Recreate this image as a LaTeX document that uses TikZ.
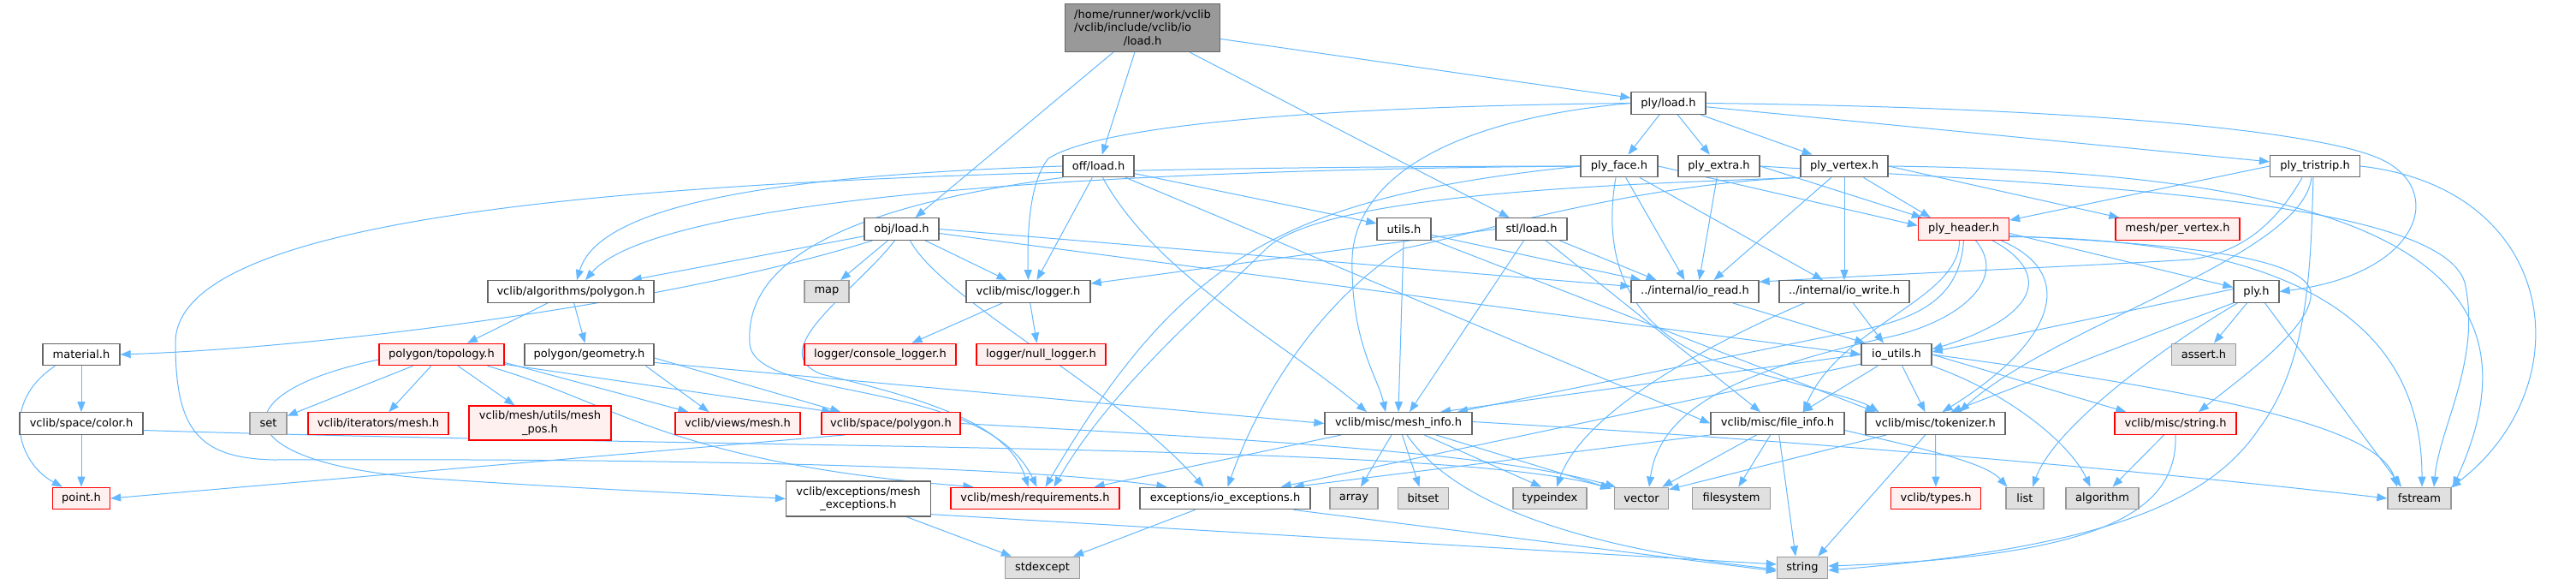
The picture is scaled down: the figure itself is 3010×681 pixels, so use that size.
\documentclass[tikz,border=0pt]{standalone}
\usepackage{fontspec}
\setmainfont{DejaVu Sans}
\usetikzlibrary{arrows.meta,backgrounds,calc}
\definecolor{edgec}{HTML}{63B8FF}
\definecolor{bordc}{HTML}{666666}
\definecolor{rootfill}{HTML}{999999}
\definecolor{redfill}{HTML}{FFF0F0}
\definecolor{grayfill}{HTML}{E0E0E0}
\definecolor{grayb}{HTML}{999999}
\begin{document}
\begin{tikzpicture}[x=1pt,y=-1pt,
 box/.style={draw=bordc, fill=white, line width=1.3pt, minimum height=25.5pt, inner sep=0pt, font=\fontsize{13pt}{15.2pt}\selectfont, align=center},
 redbox/.style={box, draw=red, fill=redfill},
 graybox/.style={box, draw=grayb, fill=grayfill},
 rootbox/.style={box, fill=rootfill},
 edge/.style={draw=edgec, line width=1pt, -{Triangle[length=12pt,width=9pt]}}]
\useasboundingbox (0,0) rectangle (3010,681);
% nodes
\node[rootbox, minimum width=181pt, minimum height=56pt] (root) at (1335,32.5) {/home/runner/work/vclib\\\makebox[0pt][l]{/vclib/include/vclib/io}\phantom{/home/runner/work/vclib}\\/load.h};
\node[box, minimum width=87pt] (obj) at (1053.5,267.5) {obj/load.h};
\node[box, minimum width=83pt] (off) at (1283.5,194) {off/load.h};
\node[box, minimum width=87pt] (plyload) at (1949.5,120.5) {ply/load.h};
\node[box, minimum width=83pt] (stl) at (1789.5,267.5) {stl/load.h};
\node[box, minimum width=90pt] (plyface) at (1892,194) {ply\_face.h};
\node[box, minimum width=95pt] (plyextra) at (2008.5,194) {ply\_extra.h};
\node[box, minimum width=102pt] (plyvertex) at (2155,194) {ply\_vertex.h};
\node[box, minimum width=105pt] (plytristrip) at (2705,194) {ply\_tristrip.h};
\node[box, minimum width=63pt] (utils) at (1640.5,267.5) {utils.h};
\node[redbox, minimum width=106pt] (plyheader) at (2294.5,267.5) {ply\_header.h};
\node[redbox, minimum width=145pt] (pervertex) at (2544.5,267.5) {mesh/per\_vertex.h};
\node[box, minimum width=149pt] (ioread) at (1980.5,340.5) {../internal/io\_read.h};
\node[box, minimum width=152pt] (iowrite) at (2155,340.5) {../internal/io\_write.h};
\node[box, minimum width=53pt] (plyh) at (2636.5,340.5) {ply.h};
\node[box, minimum width=194pt] (polygonA) at (667,340.5) {vclib/algorithms/polygon.h};
\node[graybox, minimum width=52pt] (map) at (966,340.5) {map};
\node[box, minimum width=145pt] (logger) at (1201.5,340.5) {vclib/misc/logger.h};
\node[box, minimum width=90pt] (material) at (95,414) {material.h};
\node[redbox, minimum width=146pt] (topology) at (516,414) {polygon/topology.h};
\node[box, minimum width=151pt] (geometry) at (688.5,414) {polygon/geometry.h};
\node[redbox, minimum width=177pt] (console) at (1028.5,414) {logger/console\_logger.h};
\node[redbox, minimum width=151pt] (null) at (1216.5,414) {logger/null\_logger.h};
\node[box, minimum width=82pt] (ioutils) at (2216,414) {io\_utils.h};
\node[graybox, minimum width=75pt] (assert) at (2575,414) {assert.h};
\node[box, minimum width=144pt] (color) at (95,494.5) {vclib/space/color.h};
\node[graybox, minimum width=43pt] (set) at (313.5,494.5) {set};
\node[redbox, minimum width=164pt] (itermesh) at (442,494.5) {vclib/iterators/mesh.h};
\node[redbox, minimum width=166pt, minimum height=40pt] (meshpos) at (631,494) {vclib/mesh/utils/mesh\\\_pos.h};
\node[redbox, minimum width=146pt] (viewsmesh) at (862,494.5) {vclib/views/mesh.h};
\node[redbox, minimum width=162pt] (spacepoly) at (1041,494.5) {vclib/space/polygon.h};
\node[box, minimum width=172pt] (meshinfo) at (1634,494.5) {vclib/misc/mesh\_info.h};
\node[box, minimum width=156pt] (fileinfo) at (2077,494.5) {vclib/misc/file\_info.h};
\node[box, minimum width=163pt] (tokenizer) at (2261.5,494.5) {vclib/misc/tokenizer.h};
\node[redbox, minimum width=142pt] (stringh) at (2542,494.5) {vclib/misc/string.h};
\node[redbox, minimum width=67pt] (point) at (95,582) {point.h};
\node[box, minimum width=169pt, minimum height=41pt] (meshexc) at (1003,582.5) {vclib/exceptions/mesh\\\_exceptions.h};
\node[redbox, minimum width=197pt] (requirements) at (1209.5,582) {vclib/mesh/requirements.h};
\node[box, minimum width=199pt] (ioexc) at (1431.5,582) {exceptions/io\_exceptions.h};
\node[graybox, minimum width=56pt] (array) at (1582,582) {array};
\node[graybox, minimum width=59pt] (bitset) at (1663,582) {bitset};
\node[graybox, minimum width=86pt] (typeindex) at (1811,582) {typeindex};
\node[graybox, minimum width=63pt] (vector) at (1918,582) {vector};
\node[graybox, minimum width=91pt] (filesystem) at (2023,582) {filesystem};
\node[redbox, minimum width=105pt] (types) at (2262,582) {vclib/types.h};
\node[graybox, minimum width=44pt] (list) at (2366,582) {list};
\node[graybox, minimum width=85pt] (algorithm) at (2456.5,582) {algorithm};
\node[graybox, minimum width=74pt] (fstream) at (2827,582) {fstream};
\node[graybox, minimum width=87pt] (stdexcept) at (1218,663) {stdexcept};
\node[graybox, minimum width=59pt] (string) at (2106,663) {string};
\begin{pgfonlayer}{background}
\fill[white] (0,0) rectangle (3010,681);
% root
\draw[edge] (root) -- (obj);
\draw[edge] (root) -- (off);
\draw[edge] (root) -- (stl);
\draw[edge] (root) -- (plyload);
% obj
\draw[edge] (obj) -- ($(polygonA.north east)+(-27,0)$);
\draw[edge] ($(obj.south west)+(10,0)$) .. controls (800,350) and (400,405) .. (material.east);
\draw[edge] (obj) -- (map);
\draw[edge] ($(obj.south)+(-8,0)$) .. controls (1000,340) and (890,410) .. (960,437) .. controls (1100,470) and (1180,500) .. ($(requirements.north)+(-8,0)$);
\draw[edge] ($(obj.south)+(10,0)$) .. controls (1100,350) and (1300,450) .. ($(ioexc.north)+(-25,0)$);
\draw[edge] (obj) -- ($(logger.north)+(-25,0)$);
\draw[edge] (obj.east) -- ($(ioread.west)+(0,-6)$);
\draw[edge] ($(obj.east)+(0,5)$) -- (ioutils.west);
% off
\draw[edge] (off.west) .. controls (900,205) and (700,240) .. ($(polygonA.north)+(7,0)$);
\draw[edge] (off) -- ($(logger.north)+(10,0)$);
\draw[edge] (off) -- (utils);
\draw[edge] (off) -- (fileinfo.west);
\draw[edge] ($(off.south)+(5,0)$) .. controls (1350,320) and (1500,400) .. ($(meshinfo.north)+(-37,0)$);
\draw[edge] (off.south west) .. controls (1000,240) and (870,300) .. (876,400) .. controls (878,470) and (1150,440) .. ($(requirements.north)+(2,0)$);
% ply/load
\draw[edge] (plyload.west) .. controls (1500,125) and (1280,150) .. (1225,185) .. controls (1205,210) and (1200,260) .. (logger.north);
\draw[edge] (plyload.west) .. controls (1690,140) and (1585,210) .. (1580,300) .. controls (1578,400) and (1610,440) .. ($(meshinfo.north)+(-15,0)$);
\draw[edge] (plyload) -- (plyface);
\draw[edge] (plyload) -- (plyextra);
\draw[edge] (plyload) -- (plyvertex);
\draw[edge] (plyload) -- (plytristrip);
\draw[edge] (plyload.east) .. controls (2400,125) and (2700,150) .. (2780,185) .. controls (2860,220) and (2830,320) .. (plyh.east);
% stl
\draw[edge] (stl.west) -- ($(logger.north east)+(0,4)$);
\draw[edge] (stl) -- ($(meshinfo.north)+(13,0)$);
\draw[edge] (stl) -- ($(ioread.north)+(-45,0)$);
\draw[edge] (stl) -- ($(fileinfo.north)+(-20,0)$);
% utils
\draw[edge] (utils) -- (meshinfo.north);
\draw[edge] (utils) -- ($(ioread.north west)+(12,0)$);
\draw[edge] (utils) -- ($(tokenizer.north west)+(12,0)$);
% ply_face
\draw[edge] (plyface.west) .. controls (1100,200) and (750,250) .. ($(polygonA.north)+(17,0)$);
\draw[edge] (plyface.west) .. controls (900,195) and (205,230) .. (205,400) .. controls (205,500) and (230,535) .. (320,537) .. controls (800,535) and (1200,545) .. ($(ioexc.north west)+(32,0)$);
\draw[edge] (plyface.west) .. controls (1500,230) and (1380,300) .. ($(requirements.north)+(12,0)$);
\draw[edge] ($(plyface.south)+(-4,0)$) .. controls (1872,300) and (1900,380) .. (2000,420) .. controls (2100,450) and (2170,465) .. ($(tokenizer.north west)+(16,0)$);
\draw[edge] (plyface) -- ($(ioread.north)+(-12,0)$);
\draw[edge] (plyface) -- ($(iowrite.north)+(-25,0)$);
\draw[edge] (plyface.east) -- ($(plyheader.west)+(0,-4)$);
% ply_extra
\draw[edge] (plyextra) -- ($(ioread.north)+(5,0)$);
\draw[edge] (plyextra.east) -- ($(plyheader.north west)+(5,0)$);
\draw[edge] (plyextra.east) .. controls (2400,215) and (2850,230) .. (2880,330) .. controls (2900,420) and (2850,500) .. ($(fstream.north)+(17,0)$);
% ply_vertex
\draw[edge] (plyvertex) -- ($(ioread.north)+(22,0)$);
\draw[edge] (plyvertex) -- (iowrite.north);
\draw[edge] (plyvertex) -- ($(plyheader.north west)+(15,0)$);
\draw[edge] (plyvertex.east) -- ($(pervertex.north west)+(5,0)$);
\draw[edge] (plyvertex.south west) .. controls (1900,215) and (1550,225) .. (1480,290) .. controls (1420,350) and (1300,450) .. ($(requirements.north)+(22,0)$);
\draw[edge] (plyvertex.south west) .. controls (1900,215) and (1700,280) .. (1640,290) .. controls (1560,340) and (1480,440) .. ($(ioexc.north)+(3,0)$);
\draw[edge] (plyvertex.east) .. controls (2750,200) and (2990,300) .. ($(fstream.north)+(39,0)$);
% ply_tristrip
\draw[edge] (plytristrip.west) -- ($(plyheader.north east)+(0,3)$);
\draw[edge] ($(plytristrip.south)+(-15,0)$) .. controls (2660,260) and (2620,295) .. (2560,303) .. controls (2450,310) and (2250,318) .. ($(ioread.north east)+(0,2)$);
\draw[edge] ($(plytristrip.south)+(-4,0)$) .. controls (2690,300) and (2400,380) .. ($(tokenizer.north)+(28,0)$);
\draw[edge] (plytristrip.east) .. controls (2990,220) and (3020,450) .. ($(fstream.north east)+(-1,1)$);
\draw[edge] ($(plytristrip.south)+(-2,0)$) .. controls (2700,300) and (2700,420) .. (2640,500) .. controls (2580,590) and (2450,640) .. ($(string.east)+(0,3)$);
% ply_header
\draw[edge] ($(plyheader.east)+(0,5)$) -- ($(plyh.west)+(0,-5)$);
\draw[edge] ($(plyheader.south east)+(-20,0)$) .. controls (2400,320) and (2380,370) .. ($(ioutils.east)+(0,-6)$);
\draw[edge] ($(plyheader.south east)+(-10,0)$) .. controls (2430,320) and (2400,400) .. ($(tokenizer.north)+(8,0)$);
\draw[edge] (plyheader.south) .. controls (2290,350) and (2240,375) .. (2150,390) -- ($(meshinfo.north)+(69,0)$);
\draw[edge] ($(plyheader.south)+(-5,0)$) .. controls (2290,350) and (2150,380) .. ($(fileinfo.north)+(30,0)$);
\draw[edge] ($(plyheader.south)+(14,0)$) .. controls (2350,330) and (2280,380) .. (2200,395) .. controls (2050,430) and (1940,470) .. ($(vector.north)+(9,0)$);
\draw[edge] ($(plyheader.east)+(0,8)$) .. controls (2550,285) and (2690,300) .. (2700,340) .. controls (2705,380) and (2620,440) .. ($(stringh.north)+(27,0)$);
\draw[edge] ($(plyheader.east)+(0,9)$) .. controls (2720,280) and (2830,400) .. ($(fstream.north)+(3,0)$);
% io read / write
\draw[edge] (ioread) -- ($(ioutils.north west)+(5,0)$);
\draw[edge] (iowrite) -- ($(ioutils.north)+(-15,0)$);
\draw[edge] ($(iowrite.south west)+(30,0)$) .. controls (2000,400) and (1850,480) .. ($(typeindex.north)+(8,0)$);
% io_utils
\draw[edge] (ioutils.west) -- ($(meshinfo.north)+(49,0)$);
\draw[edge] ($(ioutils.west)+(0,11)$) -- ($(ioexc.north east)+(-35,0)$);
\draw[edge] (ioutils) -- ($(fileinfo.north)+(29,0)$);
\draw[edge] (ioutils) -- ($(tokenizer.north)+(-12,0)$);
\draw[edge] (ioutils.east) -- ($(stringh.north west)+(14,0)$);
\draw[edge] (ioutils.east) .. controls (2600,460) and (2780,500) .. ($(fstream.north)+(-26,0)$);
\draw[edge] (ioutils.south east) .. controls (2350,460) and (2420,520) .. ($(algorithm.north)+(-14,0)$);
% ply.h
\draw[edge] (plyh) -- ($(assert.north)+(12,0)$);
\draw[edge] ($(plyh.south)+(10,0)$) -- ($(fstream.north)+(-21,0)$);
\draw[edge] (plyh.south west) -- ($(tokenizer.north)+(18,0)$);
\draw[edge] ($(plyh.west)+(0,-3)$) -- ($(ioutils.east)+(0,-3)$);
\draw[edge] ($(plyh.south west)+(5,0)$) .. controls (2520,410) and (2400,500) .. ($(list.north)+(9,0)$);
% mesh_info
\draw[edge] (meshinfo) -- (array);
\draw[edge] (meshinfo) -- (bitset);
\draw[edge] (meshinfo) -- ($(typeindex.north)+(-10,0)$);
\draw[edge] (meshinfo) -- ($(vector.north west)+(-3,2)$);
\draw[edge] ($(meshinfo.south)+(10,0)$) .. controls (1700,590) and (1850,640) .. ($(string.west)+(0,2)$);
\draw[edge] ($(meshinfo.south west)+(20,0)$) -- ($(requirements.north east)+(-30,0)$);
\draw[edge] ($(meshinfo.east)+(0,-2)$) .. controls (2200,520) and (2600,560) .. (fstream.west);
% file_info
\draw[edge] (fileinfo) -- ($(vector.north east)+(-8,0)$);
\draw[edge] (fileinfo) -- (filesystem);
\draw[edge] (fileinfo) -- ($(string.north)+(-8,0)$);
\draw[edge] (fileinfo.south west) -- ($(ioexc.north east)+(-20,0)$);
\draw[edge] ($(fileinfo.east)+(0,8)$) .. controls (2250,525) and (2320,540) .. ($(list.north west)+(2,0)$);
% tokenizer
\draw[edge] ($(tokenizer.south west)+(25,0)$) -- ($(vector.north east)+(0,3)$);
\draw[edge] (tokenizer) -- ($(string.north east)+(-12,0)$);
\draw[edge] (tokenizer) -- (types);
% string.h
\draw[edge] (stringh) -- ($(algorithm.north)+(12,0)$);
\draw[edge] (stringh.south) .. controls (2545,600) and (2450,650) .. ($(string.east)+(0,-2)$);
% space
\draw[edge] (color) -- (point);
\draw[edge] ($(color.east)+(0,8)$) .. controls (900,525) and (1700,518) .. ($(vector.north west)+(-4,2)$);
\draw[edge] (spacepoly.east) .. controls (1500,515) and (1750,530) .. ($(vector.north west)+(2,0)$);
\draw[edge] ($(spacepoly.south west)+(28,0)$) -- (point.east);
% material
\draw[edge] (material) -- (color);
\draw[edge] ($(material.south west)+(15,0)$) .. controls (0,470) and (20,540) .. ($(point.north west)+(12,0)$);
% algorithms/polygon
\draw[edge] (polygonA) -- ($(topology.north)+(30,0)$);
\draw[edge] (polygonA) -- ($(geometry.north)+(-5,0)$);
% topology
\draw[edge] (topology) -- (set);
\draw[edge] (topology) -- (itermesh);
\draw[edge] (topology) -- (meshpos);
\draw[edge] ($(topology.south east)+(0,-4)$) -- ($(viewsmesh.north west)+(16,0)$);
\draw[edge] ($(topology.south east)+(0,-2)$) -- ($(spacepoly.north west)+(13,0)$);
\draw[edge] ($(topology.south east)+(-20,0)$) .. controls (720,470) and (780,540) .. ($(requirements.north west)+(27,0)$);
\draw[edge] ($(topology.west)+(0,6)$) .. controls (250,460) and (260,545) .. (520,560) .. controls (700,572) and (850,578) .. (meshexc.west);
% geometry
\draw[edge] ($(geometry.south east)+(-10,0)$) -- ($(viewsmesh.north west)+(40,0)$);
\draw[edge] ($(geometry.east)+(0,4)$) -- ($(spacepoly.north west)+(23,0)$);
\draw[edge] ($(geometry.south east)+(0,-4)$) -- (meshinfo.west);
% logger
\draw[edge] (logger) -- ($(console.north)+(37,0)$);
\draw[edge] (logger) -- ($(null.north)+(-5,0)$);
% exceptions
\draw[edge] (meshexc) -- ($(stdexcept.north west)+(8,0)$);
\draw[edge] ($(meshexc.south east)+(0,-3)$) -- ($(string.west)+(0,-4)$);
\draw[edge] (ioexc) -- ($(stdexcept.north east)+(-8,0)$);
\draw[edge] ($(ioexc.south east)+(-20,0)$) -- ($(string.west)+(0,4)$);
\end{pgfonlayer}
\end{tikzpicture}
\end{document}
